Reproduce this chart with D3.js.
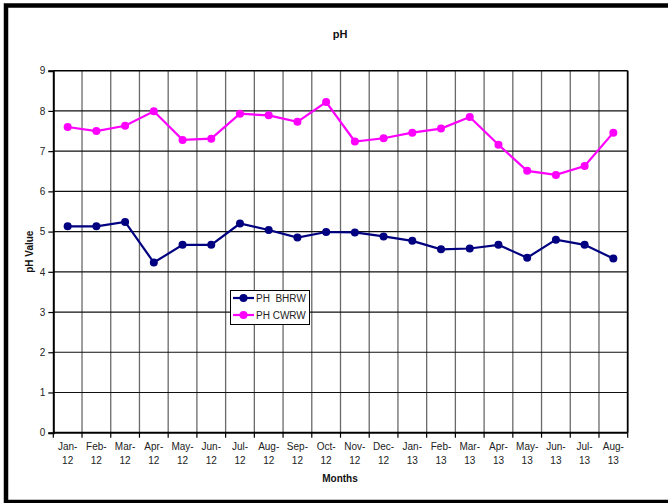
<!DOCTYPE html>
<html>
<head>
<meta charset="utf-8">
<script src="https://cdn.jsdelivr.net/npm/d3@7/dist/d3.min.js"></script>
<style>
  html, body { margin: 0; padding: 0; background: #fff; }
  svg { display: block; font-family: "Liberation Sans", Arial, sans-serif; }
</style>
</head>
<body>
<svg id="chart" width="668" height="503"></svg>
<script>
// Monthly pH readings, Jan 2012 – Aug 2013
const months = ["Jan-12", "Feb-12", "Mar-12", "Apr-12", "May-12", "Jun-12", "Jul-12", "Aug-12",
  "Sep-12", "Oct-12", "Nov-12", "Dec-12", "Jan-13", "Feb-13", "Mar-13", "Apr-13",
  "May-13", "Jun-13", "Jul-13", "Aug-13"];
const phBHRW = [5.13, 5.13, 5.24, 4.23, 4.67, 4.67, 5.20, 5.04, 4.85, 4.99, 4.98, 4.88,
  4.77, 4.56, 4.58, 4.67, 4.35, 4.80, 4.67, 4.33];
const phCWRW = [7.60, 7.50, 7.63, 7.99, 7.28, 7.31, 7.93, 7.89, 7.73, 8.22, 7.24, 7.32,
  7.46, 7.56, 7.85, 7.16, 6.51, 6.41, 6.63, 7.46];
const yTicks = [0, 1, 2, 3, 4, 5, 6, 7, 8, 9];
const seriesNames = ["PH  BHRW", "PH CWRW"];
const seriesColors = ["#000080", "#ff00ff"];

const svg = d3.select("#chart");
const plotL = 53.3, plotR = 627.7, plotT = 70.7, plotB = 432.7;

// Outer frame
svg.append("rect")
  .attr("x", 6).attr("y", 5.5).attr("width", 700).attr("height", 496.5)
  .attr("fill", "none").attr("stroke", "#000").attr("stroke-width", 4.5);

const x = d3.scaleBand().domain(months).range([plotL, plotR]).padding(0);
const y = d3.scaleLinear().domain([0, 9]).range([plotB, plotT]);

// Vertical grid at category boundaries
svg.append("g").selectAll("line")
  .data(months.slice(1))
  .join("line")
  .attr("x1", d => x(d)).attr("x2", d => x(d))
  .attr("y1", plotT).attr("y2", plotB)
  .attr("stroke", "#6a6a6a").attr("stroke-width", 1.3);

// Horizontal grid
svg.append("g").selectAll("line")
  .data(yTicks.filter(v => v > 0 && v < 9))
  .join("line")
  .attr("x1", plotL).attr("x2", plotR)
  .attr("y1", d => y(d)).attr("y2", d => y(d))
  .attr("stroke", "#111").attr("stroke-width", 1.2);

// Plot frame top / right
svg.append("line").attr("x1", plotL).attr("x2", plotR).attr("y1", plotT).attr("y2", plotT)
  .attr("stroke", "#000").attr("stroke-width", 1.6);
svg.append("line").attr("x1", plotR).attr("x2", plotR).attr("y1", plotT).attr("y2", plotB)
  .attr("stroke", "#000").attr("stroke-width", 1.8);

// Y axis
const yAxis = svg.append("g")
  .attr("transform", `translate(${plotL},0)`)
  .call(d3.axisLeft(y).tickValues(yTicks).tickSize(5).tickPadding(3).tickFormat(d3.format("d")));
yAxis.select(".domain").attr("stroke", "#000").attr("stroke-width", 2);
yAxis.selectAll(".tick line").attr("stroke", "#000").attr("stroke-width", 1.2);
yAxis.selectAll(".tick text").attr("font-size", 10).attr("fill", "#222")
  .attr("font-family", "Liberation Sans, Arial, sans-serif");

// X axis: ticks on category boundaries
const xEdges = months.map(m => x(m)).concat([plotR]);
const xAxisG = svg.append("g");
xAxisG.append("line").attr("x1", plotL).attr("x2", plotR).attr("y1", plotB).attr("y2", plotB)
  .attr("stroke", "#000").attr("stroke-width", 2);
xAxisG.selectAll("line.tk").data(xEdges).join("line").attr("class", "tk")
  .attr("x1", d => d).attr("x2", d => d).attr("y1", plotB).attr("y2", plotB + 5)
  .attr("stroke", "#000").attr("stroke-width", 1.2);
const xl = xAxisG.selectAll("text.xl").data(months).join("text").attr("class", "xl")
  .attr("x", d => x(d) + x.bandwidth() / 2)
  .attr("text-anchor", "middle").attr("font-size", 10).attr("fill", "#222");
xl.append("tspan").attr("x", d => x(d) + x.bandwidth() / 2).attr("y", 450)
  .text(d => d.split("-")[0] + "-");
xl.append("tspan").attr("x", d => x(d) + x.bandwidth() / 2).attr("y", 464)
  .text(d => d.split("-")[1]);

// Titles
svg.append("text").attr("x", 340).attr("y", 38).attr("text-anchor", "middle")
  .attr("font-size", 11).attr("font-weight", "bold").attr("fill", "#111").text("pH");
svg.append("text").attr("x", 340).attr("y", 482).attr("text-anchor", "middle")
  .attr("font-size", 10).attr("font-weight", "bold").attr("fill", "#111").text("Months");
svg.append("text")
  .attr("transform", `translate(33,${(plotT + plotB) / 2}) rotate(-90)`)
  .attr("text-anchor", "middle")
  .attr("font-size", 10).attr("font-weight", "bold").attr("fill", "#111").text("pH Value");

// Series
const cx = (d, i) => x(months[i]) + x.bandwidth() / 2;
[phBHRW, phCWRW].forEach((vals, s) => {
  const line = d3.line().x((d, i) => cx(d, i)).y(d => y(d));
  svg.append("path").datum(vals)
    .attr("d", line).attr("fill", "none")
    .attr("stroke", seriesColors[s]).attr("stroke-width", 2.2);
  svg.append("g").selectAll("circle").data(vals).join("circle")
    .attr("cx", (d, i) => cx(d, i)).attr("cy", d => y(d)).attr("r", 4)
    .attr("fill", seriesColors[s]);
});

// Legend
const lg = svg.append("g");
lg.append("rect").attr("x", 230.5).attr("y", 290.5).attr("width", 79).attr("height", 34)
  .attr("fill", "#fff").attr("stroke", "#000").attr("stroke-width", 1);
seriesNames.forEach((name, i) => {
  const ly = 298 + i * 17;
  lg.append("line").attr("x1", 233).attr("x2", 254).attr("y1", ly).attr("y2", ly)
    .attr("stroke", seriesColors[i]).attr("stroke-width", 2.2);
  lg.append("circle").attr("cx", 243.5).attr("cy", ly).attr("r", 4).attr("fill", seriesColors[i]);
  lg.append("text").attr("x", 256).attr("y", ly + 3.6).attr("font-size", 10)
    .attr("fill", "#222").attr("xml:space", "preserve").style("white-space", "pre").text(name);
});
</script>
</body>
</html>
